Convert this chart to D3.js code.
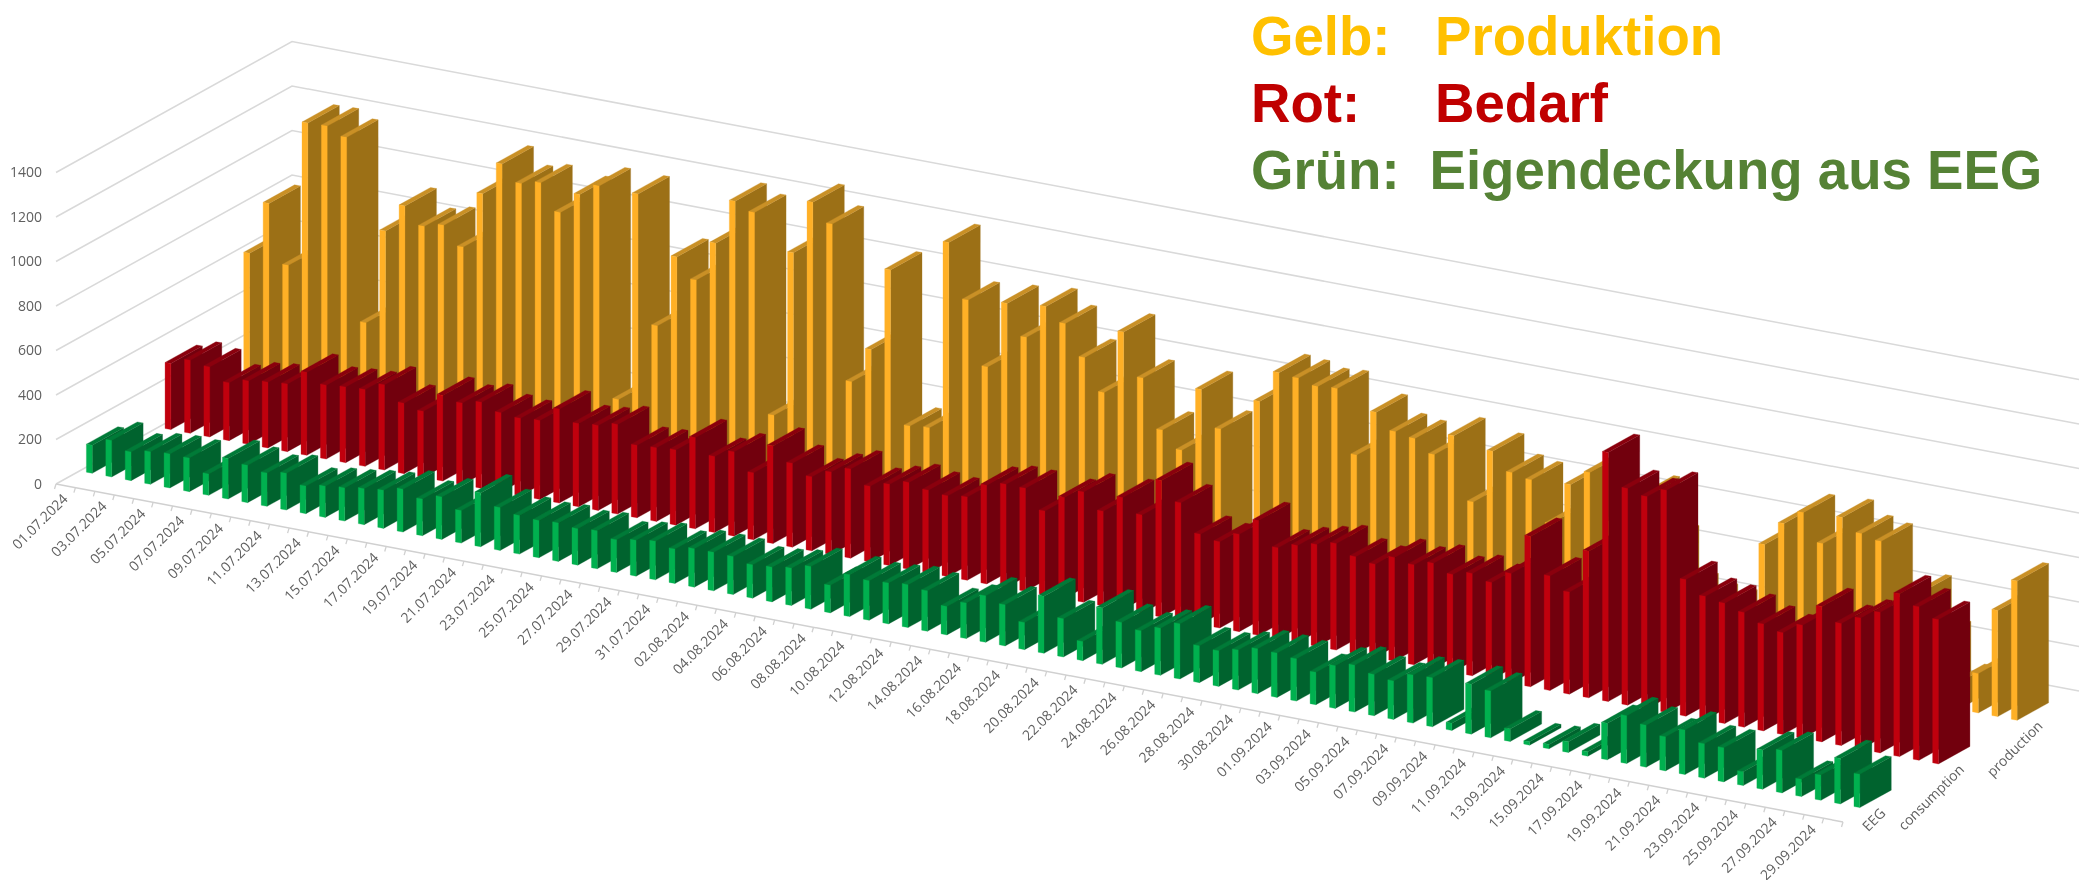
<!DOCTYPE html>
<html>
<head>
<meta charset="utf-8">
<script src="https://cdn.jsdelivr.net/npm/d3@7/dist/d3.min.js"></script>
<style>
html,body{margin:0;padding:0;background:#fff;}
svg{display:block;}
</style>
</head>
<body>
<svg id="chart" width="2088" height="880">
<defs><filter id="soft" filterUnits="userSpaceOnUse" x="0" y="0" width="2088" height="880"><feGaussianBlur stdDeviation="0.55"/></filter></defs>
</svg>
<script>
const dates = ["01.07.2024","02.07.2024","03.07.2024","04.07.2024","05.07.2024","06.07.2024","07.07.2024","08.07.2024","09.07.2024","10.07.2024","11.07.2024","12.07.2024","13.07.2024","14.07.2024","15.07.2024","16.07.2024","17.07.2024","18.07.2024","19.07.2024","20.07.2024","21.07.2024","22.07.2024","23.07.2024","24.07.2024","25.07.2024","26.07.2024","27.07.2024","28.07.2024","29.07.2024","30.07.2024","31.07.2024","01.08.2024","02.08.2024","03.08.2024","04.08.2024","05.08.2024","06.08.2024","07.08.2024","08.08.2024","09.08.2024","10.08.2024","11.08.2024","12.08.2024","13.08.2024","14.08.2024","15.08.2024","16.08.2024","17.08.2024","18.08.2024","19.08.2024","20.08.2024","21.08.2024","22.08.2024","23.08.2024","24.08.2024","25.08.2024","26.08.2024","27.08.2024","28.08.2024","29.08.2024","30.08.2024","31.08.2024","01.09.2024","02.09.2024","03.09.2024","04.09.2024","05.09.2024","06.09.2024","07.09.2024","08.09.2024","09.09.2024","10.09.2024","11.09.2024","12.09.2024","13.09.2024","14.09.2024","15.09.2024","16.09.2024","17.09.2024","18.09.2024","19.09.2024","20.09.2024","21.09.2024","22.09.2024","23.09.2024","24.09.2024","25.09.2024","26.09.2024","27.09.2024","28.09.2024","29.09.2024","30.09.2024"];
const seriesNames = ["EEG","consumption","production"];
const production = [596,837,575,1231,1234,1200,383,812,941,866,887,806,1062,1212,1141,1161,1044,1141,1196,253,1193,617,943,856,1038,1243,1209,314,1061,1304,1223,531,692,1066,381,390,1239,997,713,1015,879,1034,974,838,697,985,795,578,504,793,632,150,789,935,927,906,913,631,839,769,755,699,800,519,763,684,668,488,679,750,550,450,703,500,300,270,260,240,575,686,752,629,763,707,689,350,489,300,120,177,477,626];
const consumption = [297,328,315,260,285,296,304,373,332,340,345,383,317,297,385,367,387,357,348,355,423,374,382,403,326,331,338,410,342,379,301,438,377,333,371,401,340,365,390,372,363,374,444,464,463,377,455,496,426,504,442,613,530,405,388,438,516,410,437,458,479,436,419,466,449,473,439,460,436,493,676,515,459,659,1119,974,954,999,614,555,541,516,480,458,508,608,549,590,632,732,690,649];
const eeg = [126,164,129,146,153,151,96,182,168,150,165,124,140,149,162,171,193,165,191,146,242,193,174,168,173,164,171,147,161,173,155,173,173,171,150,156,168,192,124,188,178,184,193,182,128,160,209,185,122,256,172,86,253,205,184,212,248,166,160,180,202,199,190,146,192,211,186,173,216,220,32,224,210,56,15,20,48,20,164,215,189,153,200,155,153,62,176,191,78,113,204,150];
const valueTicks = [0,200,400,600,800,1000,1200,1400];
const legendKeys = ["Gelb:","Rot:","Grün:"];
const legendLabels = ["Produktion","Bedarf","Eigendeckung aus EEG"];

const palette = {
  EEG:{front:"#00b04f",side:"#00642e",top:"#007a37"},
  consumption:{front:"#c00010",side:"#72000a",top:"#8a000c"},
  production:{front:"#ffb027",side:"#9c7019",top:"#c99026"}
};
const legendColors = ["#ffc000","#c00000","#548235"];
const seriesData = {EEG:eeg,consumption:consumption,production:production};

const svg = d3.select("#chart").append("g").attr("filter","url(#soft)");

// axonometric frame: origin, date-axis vector, depth-axis vector
const O = [56,484], D = [1787,338], W = [236,-131];
const u = d3.scaleBand().domain(dates).range([0,1]).paddingInner(0.7).paddingOuter(0.35);
const v = d3.scaleBand().domain(seriesNames).range([0,1]).paddingInner(0.6).paddingOuter(0.3);
const h = d3.scaleLinear().domain([0,1400]).range([0,311.5]);
const P = (a,b,val) => [O[0]+a*D[0]+b*W[0], O[1]+a*D[1]+b*W[1]-h(val)];
const line = d3.line();

// gridlines: left wall + back wall
const grid = svg.append("g").attr("fill","none").attr("stroke","#d9d9d9").attr("stroke-width",1.5);
valueTicks.forEach(t=>{
  grid.append("path").attr("d",line([P(0,0,t),P(0,1,t),P(1,1,t)]));
});

// date axis
const axis = svg.append("g");
axis.append("path").attr("d",line([P(0,0,0),P(1,0,0)])).attr("stroke","#d0d0d0").attr("stroke-width",1.5).attr("fill","none");
const stepU = u.step();
d3.range(dates.length+1).forEach(k=>{
  const p = P(k*stepU,0,0);
  axis.append("path").attr("d",line([p,[p[0]-1.5,p[1]+5]])).attr("stroke","#d0d0d0").attr("stroke-width",1.3);
});
const labelFont = "'Open Sans',sans-serif";
dates.forEach((d,i)=>{
  if(i%2) return;
  const p = P(u(d)+u.bandwidth()/2,0,0);
  axis.append("text").attr("transform",`translate(${p[0]+3},${p[1]+14}) rotate(-45)`)
    .attr("text-anchor","end").attr("font-family",labelFont).attr("font-size",14).attr("fill","#5f5f5f").text(d);
});
seriesNames.forEach(s=>{
  const p = P(1,v(s)+v.bandwidth()/2,0);
  svg.append("text").attr("transform",`translate(${p[0]+4},${p[1]+14}) rotate(-45)`)
    .attr("text-anchor","end").attr("font-family",labelFont).attr("font-size",14).attr("fill","#5f5f5f").text(s);
});

// value axis
const yScale = d3.scaleLinear().domain([0,1400]).range([O[1],O[1]-h(1400)]);
const yAxis = svg.append("g").attr("transform","translate(45,0)")
  .call(d3.axisLeft(yScale).tickValues(valueTicks).tickSize(0).tickFormat(d3.format("d")));
yAxis.select(".domain").remove();
yAxis.selectAll("text").attr("font-family",labelFont).attr("font-size",14).attr("fill","#5f5f5f");

// bars: painter's order, back row first and earlier dates first
[...seriesNames].reverse().forEach(s=>{
  const g = svg.append("g").attr("class","series-"+s);
  const c = palette[s];
  seriesData[s].forEach((val,i)=>{
    const a0 = u(dates[i]), a1 = a0+u.bandwidth();
    const b0 = v(s), b1 = b0+v.bandwidth();
    const poly = (pts,fill)=>g.append("path").attr("d",line(pts)+"Z").attr("fill",fill).attr("stroke",fill).attr("stroke-width",0.3);
    poly([P(a1,b0,0),P(a1,b1,0),P(a1,b1,val),P(a1,b0,val)],c.side);
    poly([P(a0,b0,val),P(a1,b0,val),P(a1,b1,val),P(a0,b1,val)],c.top);
    poly([P(a0,b0,0),P(a1,b0,0),P(a1,b0,val),P(a0,b0,val)],c.front);
  });
});

// legend text
const legendY = [55,122,189];
const legendX2 = [1435,1435,1429.5];
legendKeys.forEach((k,i)=>{
  const t = svg.append("g").attr("font-family","'Liberation Sans',Arial,sans-serif").attr("font-weight","bold").attr("font-size",54.6).attr("fill",legendColors[i]);
  t.append("text").attr("x",1251).attr("y",legendY[i]).text(k);
  t.append("text").attr("x",legendX2[i]).attr("y",legendY[i]).text(legendLabels[i]);
});
</script>
</body>
</html>
